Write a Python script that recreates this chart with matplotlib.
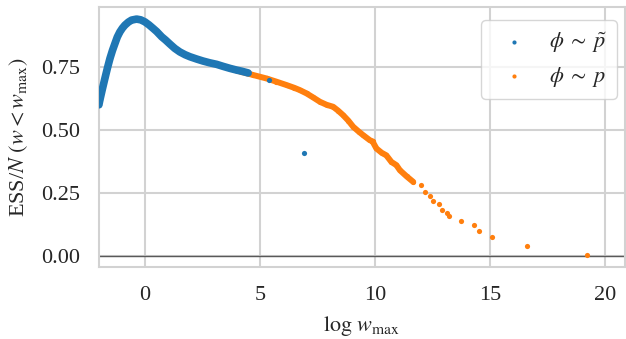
import matplotlib
matplotlib.use("Agg")
import matplotlib.pyplot as plt
import seaborn as sns

# blue: phi ~ p_tilde (dense run, then a few stragglers)
blue_x = [-2.0, -1.96, -1.85, -1.74, -1.63, -1.52, -1.41, -1.30, -1.2, -1.09, -0.98, -0.87,
          -0.72, -0.58, -0.36, -0.18, 0.0, 0.18, 0.36, 0.51, 0.73, 0.9, 1.09, 1.3, 1.52,
          1.75, 1.96, 2.25, 2.53, 2.82, 3.12, 3.4, 3.7, 4.0, 4.2, 4.49]
blue_y = [0.60, 0.618, 0.662, 0.704, 0.745, 0.783, 0.815, 0.843, 0.868, 0.888, 0.903, 0.915,
          0.927, 0.935, 0.939, 0.936, 0.928, 0.916, 0.902, 0.89, 0.869, 0.856, 0.84, 0.823, 0.809,
          0.798, 0.79, 0.781, 0.773, 0.766, 0.76, 0.752, 0.744, 0.737, 0.733, 0.726]
blue_extra_x = [5.39, 6.93]
blue_extra_y = [0.697, 0.411]

# orange: phi ~ p
orange_x = [3.7, 4.2, 4.7, 5.29, 5.7, 6.16, 6.5, 6.74, 7.03, 7.3, 7.61, 7.9, 8.19, 8.4,
            8.62, 8.85, 9.06, 9.3, 9.49, 9.78, 9.9, 10.07, 10.3, 10.5, 10.72, 10.94, 11.09,
            11.38, 11.67]
orange_y = [0.744, 0.73, 0.718, 0.704, 0.692, 0.678, 0.667, 0.658, 0.645, 0.63, 0.612, 0.6,
            0.592, 0.577, 0.559, 0.537, 0.513, 0.494, 0.48, 0.46, 0.455, 0.427, 0.41, 0.40,
            0.374, 0.361, 0.341, 0.317, 0.295]
orange_extra_x = [12.03, 12.17, 12.39, 12.51, 12.78, 12.94, 13.12, 13.22, 13.73, 14.32,
                  14.52, 15.1, 16.61, 19.23]
orange_extra_y = [0.282, 0.256, 0.238, 0.22, 0.206, 0.183, 0.173, 0.161, 0.142, 0.123,
                  0.101, 0.078, 0.04, 0.004]

sns.set_style("whitegrid")
plt.rcParams['font.family'] = ['Liberation Serif', 'DejaVu Serif']
plt.rcParams['mathtext.fontset'] = 'stix'
plt.rcParams['font.size'] = 16

blue = '#1f77b4'
orange = '#ff7f0e'

fig = plt.figure(figsize=(6.26, 3.39), dpi=100)
ax = fig.add_axes([0.158, 0.213, 0.84, 0.765])

# dense runs: thick band through the read points
ax.plot(orange_x, orange_y, color=orange, lw=4.3, solid_capstyle='round', zorder=2)
ax.plot(blue_x, blue_y, color=blue, lw=5.5, solid_capstyle='round', zorder=3)
ax.scatter(orange_x + orange_extra_x, orange_y + orange_extra_y, s=14, color=orange,
           linewidths=0, zorder=2, label=r'$\phi \;\sim\; p$')
ax.scatter(blue_x + blue_extra_x, blue_y + blue_extra_y, s=14, color=blue,
           linewidths=0, zorder=3, label=r'$\phi \;\sim\; \tilde{p}$')

ax.axhline(0, color='0.35', lw=1.0, zorder=1)

ax.set_xlim(-2.0, 20.87)
ax.set_ylim(-0.041, 0.985)
ax.set_xticks([0, 5, 10, 15, 20])
ax.set_yticks([0.0, 0.25, 0.5, 0.75])
ax.tick_params(axis='both', pad=10)
ax.grid(color='#d2d2d2', lw=1.5)
for s in ax.spines.values():
    s.set_color('#d2d2d2')
    s.set_linewidth(1.5)
ax.set_xlabel(r'$\log\, w_{\max}$', labelpad=7)
ax.set_ylabel(r'ESS/$N$ $(w < w_{\max})$', labelpad=8)

h, l = ax.get_legend_handles_labels()
ax.legend(h[::-1], l[::-1], loc='upper right', markerscale=0.8, fontsize=16,
          borderpad=0.45, handletextpad=0.6, labelspacing=0.45,
          borderaxespad=0, bbox_to_anchor=(0.985, 0.95))

fig.savefig('out.png', dpi=100)
